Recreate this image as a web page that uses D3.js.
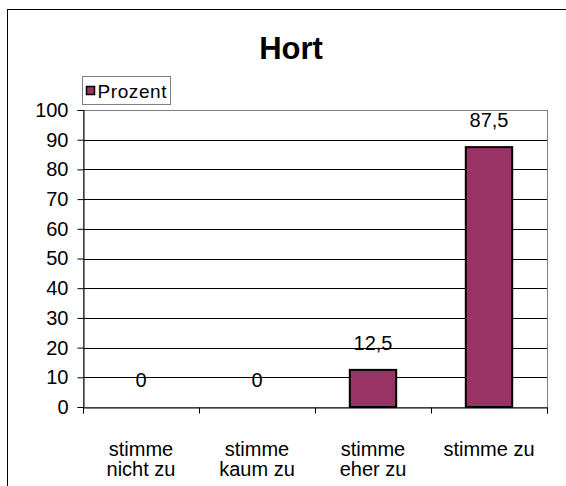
<!DOCTYPE html>
<html>
<head>
<meta charset="utf-8">
<script src="https://cdn.jsdelivr.net/npm/d3@7"></script>
<style>
  body { margin: 0; background: #fff; }
  text { font-family: "Liberation Sans", Arial, sans-serif; }
</style>
</head>
<body>
<script>
// Data
const categories = [["stimme", "nicht zu"], ["stimme", "kaum zu"], ["stimme", "eher zu"], ["stimme zu"]];
const values = [0, 0, 12.5, 87.5];
const yTicks = [0, 10, 20, 30, 40, 50, 60, 70, 80, 90, 100];
const seriesName = "Prozent";
const title = "Hort";

const W = 566, H = 486;
const plot = { left: 83, right: 547, top: 110, bottom: 407 };

const svg = d3.select("body")
              .append("svg")
              .attr("width", W)
              .attr("height", H);

// Outer chart frame (runs past the window on the right and bottom)
svg.append("rect")
   .attr("x", 7.5)
   .attr("y", 9.5)
   .attr("width", 600)
   .attr("height", 520)
   .attr("fill", "#fff")
   .attr("stroke", "#000")
   .attr("stroke-width", 1);

// Title
svg.append("text")
   .attr("x", 291)
   .attr("y", 59)
   .attr("text-anchor", "middle")
   .style("font-size", "31px")
   .style("font-weight", "bold")
   .text(title);

// Scales
const x = d3.scaleBand()
            .domain(d3.range(categories.length))
            .range([plot.left, plot.right])
            .paddingInner(0.6)
            .paddingOuter(0.3);

const xStep = (plot.right - plot.left) / categories.length;

const y = d3.scaleLinear()
            .domain([0, 100])
            .range([plot.bottom, plot.top]);

// Gridlines
svg.append("g")
   .selectAll("line")
   .data(yTicks.filter(d => d > 0 && d < 100))
   .enter()
   .append("line")
   .attr("x1", plot.left)
   .attr("x2", plot.right)
   .attr("y1", d => Math.round(y(d)) + 0.5)
   .attr("y2", d => Math.round(y(d)) + 0.5)
   .attr("stroke", "#000")
   .attr("stroke-width", 1);

// Plot area border (grey)
svg.append("rect")
   .attr("x", plot.left + 0.5)
   .attr("y", plot.top + 0.5)
   .attr("width", plot.right - plot.left)
   .attr("height", plot.bottom - plot.top)
   .attr("fill", "none")
   .attr("stroke", "#808080")
   .attr("stroke-width", 1);

// Bars
svg.selectAll(".bar")
   .data(values)
   .enter()
   .append("rect")
   .attr("class", "bar")
   .attr("x", (d, i) => x(i))
   .attr("y", d => y(d))
   .attr("width", x.bandwidth())
   .attr("height", d => plot.bottom - y(d))
   .attr("fill", "#993366")
   .attr("stroke", "#000")
   .attr("stroke-width", d => d > 0 ? 2 : 0);

// Value labels
svg.selectAll(".val")
   .data(values)
   .enter()
   .append("text")
   .attr("class", "val")
   .attr("x", (d, i) => x(i) + x.bandwidth() / 2)
   .attr("y", d => y(d) - 20)
   .attr("text-anchor", "middle")
   .style("font-size", "20px")
   .text(d => String(d).replace(".", ","));

// Y axis
const yAxis = svg.append("g")
   .attr("transform", `translate(${plot.left + 0.5},0)`)
   .call(d3.axisLeft(y).tickValues(yTicks).tickSize(6).tickPadding(9));
yAxis.select(".domain").attr("stroke", "#000");
yAxis.selectAll(".tick line").attr("stroke", "#000");
yAxis.selectAll(".tick text")
     .style("font-size", "20px")
     .attr("fill", "#000")
     .attr("font-family", null);

// X axis with ticks at category boundaries
const xb = d3.scaleLinear().domain([0, categories.length]).range([plot.left, plot.right]);
const xAxis = svg.append("g")
   .attr("transform", `translate(0,${plot.bottom + 0.5})`)
   .call(d3.axisBottom(xb).ticks(categories.length).tickSize(6).tickFormat(""));
xAxis.select(".domain").attr("stroke", "#000");
xAxis.selectAll(".tick line").attr("stroke", "#000");

// Category labels
const catLabels = svg.selectAll(".cat")
   .data(categories)
   .enter()
   .append("text")
   .attr("class", "cat")
   .attr("text-anchor", "middle")
   .style("font-size", "20px");

catLabels.selectAll("tspan")
   .data((d, i) => d.map(line => ({ line, i })))
   .enter()
   .append("tspan")
   .attr("x", d => xb(d.i) + xStep / 2)
   .attr("y", (d, j) => 456 + j * 20)
   .text(d => d.line);

// Legend
const legend = svg.append("g")
                  .attr("transform", "translate(82.5,76.5)");

legend.append("rect")
      .attr("width", 88)
      .attr("height", 28)
      .attr("fill", "#fff")
      .attr("stroke", "#808080");

legend.append("rect")
      .attr("x", 4)
      .attr("y", 10)
      .attr("width", 8)
      .attr("height", 8)
      .attr("fill", "#993366")
      .attr("stroke", "#000")
      .attr("stroke-width", 1.5);

legend.append("text")
      .attr("x", 15)
      .attr("y", 21)
      .style("font-size", "19px")
      .attr("textLength", 69)
      .text(seriesName);
</script>
</body>
</html>
